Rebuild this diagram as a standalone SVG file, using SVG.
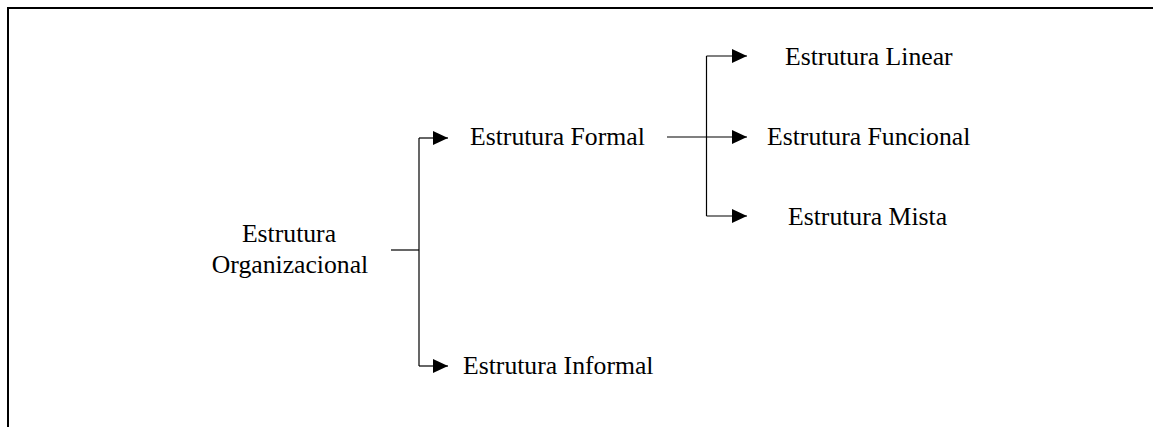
<svg xmlns="http://www.w3.org/2000/svg" width="1153" height="427" viewBox="0 0 1153 427">
<style>
  .lbl { font-family: "Liberation Serif", "Times New Roman", serif; font-size: 25.7px; fill: #000; }
  .c { fill: none; stroke: #000; stroke-width: 1.2; }
  .frame { fill: none; stroke: #000; stroke-width: 2; }
</style>
<defs>
  <marker id="arr" markerUnits="userSpaceOnUse" markerWidth="16" markerHeight="16" refX="15" refY="7" orient="auto">
    <path d="M0,0 L15,7 L0,14 Z" fill="#000"/>
  </marker>
</defs>
<rect x="0" y="0" width="1153" height="427" fill="#fff"/>
<path class="frame" d="M8,427 V8 H1153"/>
<g id="connectors">
  <path class="c" d="M391,250 H419"/>
  <path class="c" d="M419,138 V366"/>
  <path class="c" d="M419,138 H448" marker-end="url(#arr)"/>
  <path class="c" d="M419,366 H448" marker-end="url(#arr)"/>
  <path class="c" d="M667,137 H747" marker-end="url(#arr)"/>
  <path class="c" d="M706.5,56 V216"/>
  <path class="c" d="M706.5,56 H747" marker-end="url(#arr)"/>
  <path class="c" d="M706.5,216 H747" marker-end="url(#arr)"/>
</g>
<g id="org">
  <text class="lbl" x="289" y="242" text-anchor="middle">Estrutura</text>
  <text class="lbl" x="290" y="273" text-anchor="middle">Organizacional</text>
</g>
<g id="formal"><text class="lbl" x="470" y="145">Estrutura Formal</text></g>
<g id="informal"><text class="lbl" x="463" y="374">Estrutura Informal</text></g>
<g id="linear"><text class="lbl" x="785" y="65">Estrutura Linear</text></g>
<g id="funcional"><text class="lbl" x="767" y="145">Estrutura Funcional</text></g>
<g id="mista"><text class="lbl" x="788" y="225">Estrutura Mista</text></g>
</svg>
